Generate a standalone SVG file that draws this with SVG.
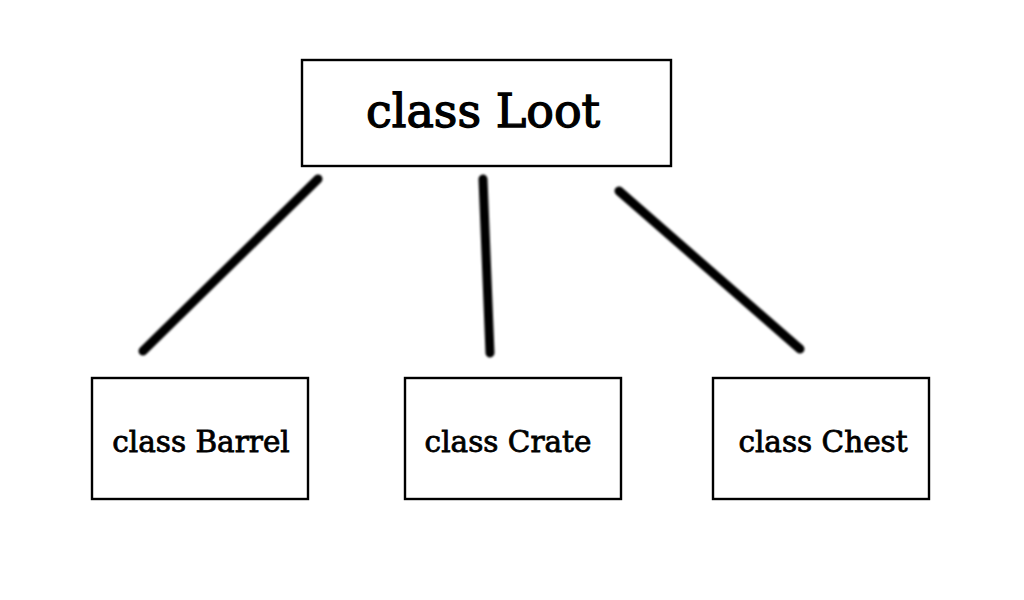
<svg xmlns="http://www.w3.org/2000/svg" width="1024" height="600" viewBox="0 0 1024 600">
<style>
.box{fill:#fff;stroke:#000;stroke-width:2.4}
.lbl{font-family:"DejaVu Serif","Liberation Serif",serif;fill:#000;stroke:#000;text-anchor:middle}
.big{font-size:46px;stroke-width:1.3}
.small{font-size:29.5px;stroke-width:0.8}
.conn line{stroke:#000;stroke-width:9;stroke-linecap:round}
</style>
<defs><filter id="soft" x="-10%" y="-10%" width="120%" height="120%"><feGaussianBlur stdDeviation="0.9"/></filter></defs>
<rect width="1024" height="600" fill="#fff"/>
<g id="loot"><rect class="box" x="302" y="60" width="369" height="106"/><text class="lbl big" x="483" y="127">class Loot</text></g>
<g id="barrel"><rect class="box" x="92" y="378" width="216" height="121"/><text class="lbl small" x="201" y="452">class Barrel</text></g>
<g id="crate"><rect class="box" x="405" y="378" width="216" height="121"/><text class="lbl small" x="508" y="452">class Crate</text></g>
<g id="chest"><rect class="box" x="713" y="378" width="216" height="121"/><text class="lbl small" x="823" y="452">class Chest</text></g>
<g class="conn" filter="url(#soft)">
<line x1="318" y1="179" x2="143" y2="351"/>
<line x1="483" y1="179" x2="490" y2="353"/>
<line x1="619" y1="191" x2="800" y2="349"/>
</g>
</svg>
